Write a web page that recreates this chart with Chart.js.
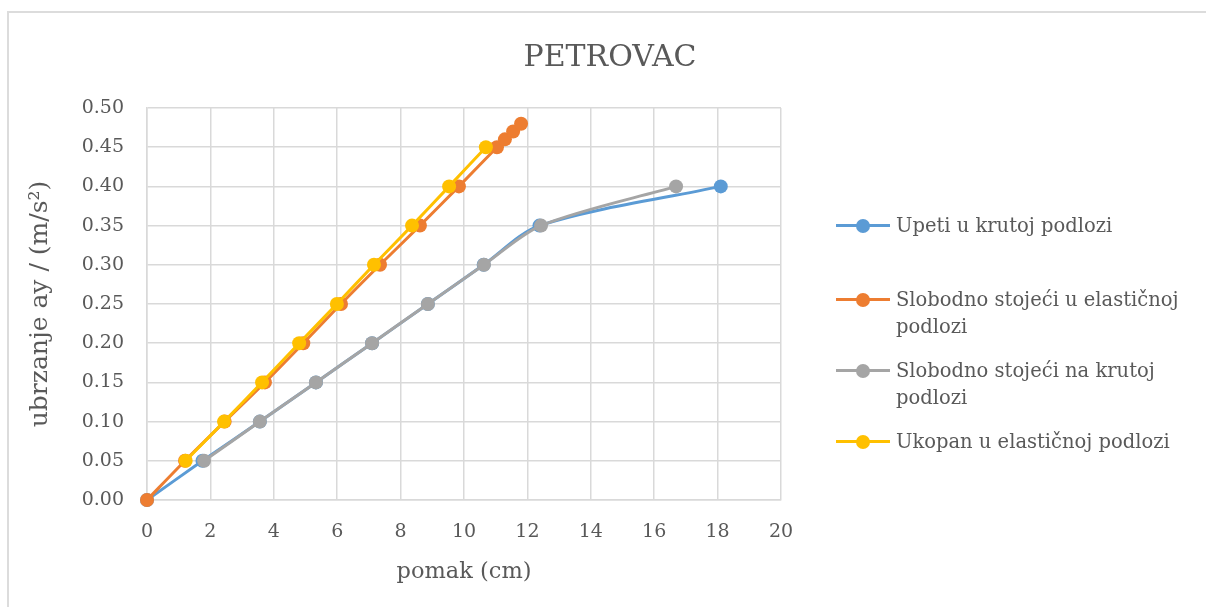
<!DOCTYPE html>
<html>
<head>
<meta charset="utf-8">
<script src="https://cdn.jsdelivr.net/npm/chart.js@4"></script>
<style>
  html, body { margin: 0; padding: 0; background: #fff; }
  #wrap { position: relative; width: 1206px; height: 607px; overflow: hidden; }
  #frame { position: absolute; left: 7px; top: 11px; width: 1210px; height: 610px;
           border: 2px solid #dcdcdc; box-sizing: border-box; }
  #box { position: absolute; left: 0; top: 0; width: 1206px; height: 607px; }
  .leg { position: absolute; left: 836px; font-family: "DejaVu Serif", serif; font-size: 19.5px;
         color: #595959; line-height: 27px; }
  .leg .sym { position: absolute; left: 0; top: 12px; width: 54px; height: 3px; }
  .leg .sym i { position: absolute; left: 20px; top: -5.5px; width: 14px; height: 14px; border-radius: 50%; }
  .leg .txt { margin-left: 60px; white-space: nowrap; }
</style>
</head>
<body>
<div id="wrap">
  <div id="frame"></div>
  <div id="box"><canvas id="chart"></canvas></div>
  <div id="legend"></div>
</div>
<script>
const seriesNames = ['Upeti u krutoj podlozi', 'Slobodno stojeći u elastičnoj|podlozi',
                     'Slobodno stojeći na krutoj|podlozi', 'Ukopan u elastičnoj podlozi'];
const seriesColors = ['#5B9BD5', '#ED7D31', '#A5A5A5', '#FFC000'];

// pomak (cm) / ubrzanje ay
const upetiX = [0, 1.75, 3.56, 5.33, 7.1, 8.86, 10.62, 12.38, 18.1];
const upetiY = [0, 0.05, 0.10, 0.15, 0.20, 0.25, 0.30, 0.35, 0.40];
const elastX = [0, 1.2, 2.45, 3.72, 4.93, 6.12, 7.35, 8.61, 9.84, 11.04, 11.29, 11.55, 11.8];
const elastY = [0, 0.05, 0.10, 0.15, 0.20, 0.25, 0.30, 0.35, 0.40, 0.45, 0.46, 0.47, 0.48];
const krutX = [1.8, 3.56, 5.33, 7.1, 8.86, 10.63, 12.43, 16.69];
const krutY = [0.05, 0.10, 0.15, 0.20, 0.25, 0.30, 0.35, 0.40];
const ukopX = [1.22, 2.43, 3.63, 4.8, 5.99, 7.16, 8.36, 9.53, 10.69];
const ukopY = [0.05, 0.10, 0.15, 0.20, 0.25, 0.30, 0.35, 0.40, 0.45];

const xTicks = [0, 2, 4, 6, 8, 10, 12, 14, 16, 18, 20];
const yTicks = [0, 0.05, 0.10, 0.15, 0.20, 0.25, 0.30, 0.35, 0.40, 0.45, 0.50];

const pts = (xs, ys) => xs.map((x, i) => ({ x: x, y: ys[i] }));
const allX = [upetiX, elastX, krutX, ukopX];
const allY = [upetiY, elastY, krutY, ukopY];
const drawOrder = [3, 2, 1, 0]; // zadnja serija na vrhu

const FONT = '"DejaVu Serif", serif';
const GREY = '#595959';

const datasets = seriesNames.map((name, i) => ({
    label: name.replace('|', ' '),
    data: pts(allX[i], allY[i]),
    borderColor: seriesColors[i],
    backgroundColor: seriesColors[i],
    borderWidth: 3,
    pointRadius: 7,
    pointHoverRadius: 7,
    pointBorderWidth: 0,
    tension: 0.3,
    showLine: true,
    clip: false,
    order: drawOrder[i]
}));

new Chart(document.getElementById('chart'), {
    type: 'scatter',
    data: { datasets: datasets },
    options: {
        responsive: true,
        maintainAspectRatio: false,
        animation: false,
        layout: { padding: { left: 14, right: 0, top: 0, bottom: 0 } },
        plugins: {
            legend: { display: false },
            tooltip: { enabled: false },
            title: {
                display: true,
                text: 'PETROVAC',
                color: GREY,
                font: { family: FONT, size: 30, weight: 'normal', lineHeight: 1.2 },
                padding: { top: 40, bottom: 32 }
            }
        },
        scales: {
            x: {
                type: 'linear',
                min: 0, max: 20,
                afterBuildTicks: (s) => { s.ticks = xTicks.map(v => ({ value: v })); },
                afterFit: (s) => { s.height = 107; },
                grid: { color: '#d9d9d9', lineWidth: 1.5, drawTicks: false },
                border: { color: '#d9d9d9', width: 1.5 },
                ticks: { color: GREY, padding: 21, font: { family: FONT, size: 19 } },
                title: { display: true, text: 'pomak (cm)', color: GREY,
                         font: { family: FONT, size: 22.5, lineHeight: 1.2 }, padding: { top: 0, bottom: 21 } }
            },
            y: {
                type: 'linear',
                min: 0, max: 0.5,
                afterBuildTicks: (s) => { s.ticks = yTicks.map(v => ({ value: v })); },
                afterFit: (s) => { s.width = 133; },
                grid: { color: '#d9d9d9', lineWidth: 1.5, drawTicks: false },
                border: { color: '#d9d9d9', width: 1.5 },
                ticks: { color: GREY, padding: 23, font: { family: FONT, size: 19 },
                         callback: (v) => v.toFixed(2) },
                title: { display: true, text: 'ubrzanje ay / (m/s²)', color: GREY,
                         font: { family: FONT, size: 25, lineHeight: 1.2 }, padding: { top: 11, bottom: 0 } }
            },
            // prazno mjesto za legendu desno
            side: {
                type: 'linear',
                position: 'right',
                afterFit: (s) => { s.width = 425; },
                grid: { display: false },
                border: { display: false },
                ticks: { display: false }
            }
        }
    }
});

// legenda desno
const legTops = [212, 286, 357, 428];
const legend = document.getElementById('legend');
seriesNames.forEach((name, i) => {
    const d = document.createElement('div');
    d.className = 'leg';
    d.style.top = legTops[i] + 'px';
    d.innerHTML = '<div class="sym" style="background:' + seriesColors[i] + '"><i style="background:' +
        seriesColors[i] + '"></i></div><div class="txt">' + name.split('|').join('<br>') + '</div>';
    legend.appendChild(d);
});
</script>
</body>
</html>
